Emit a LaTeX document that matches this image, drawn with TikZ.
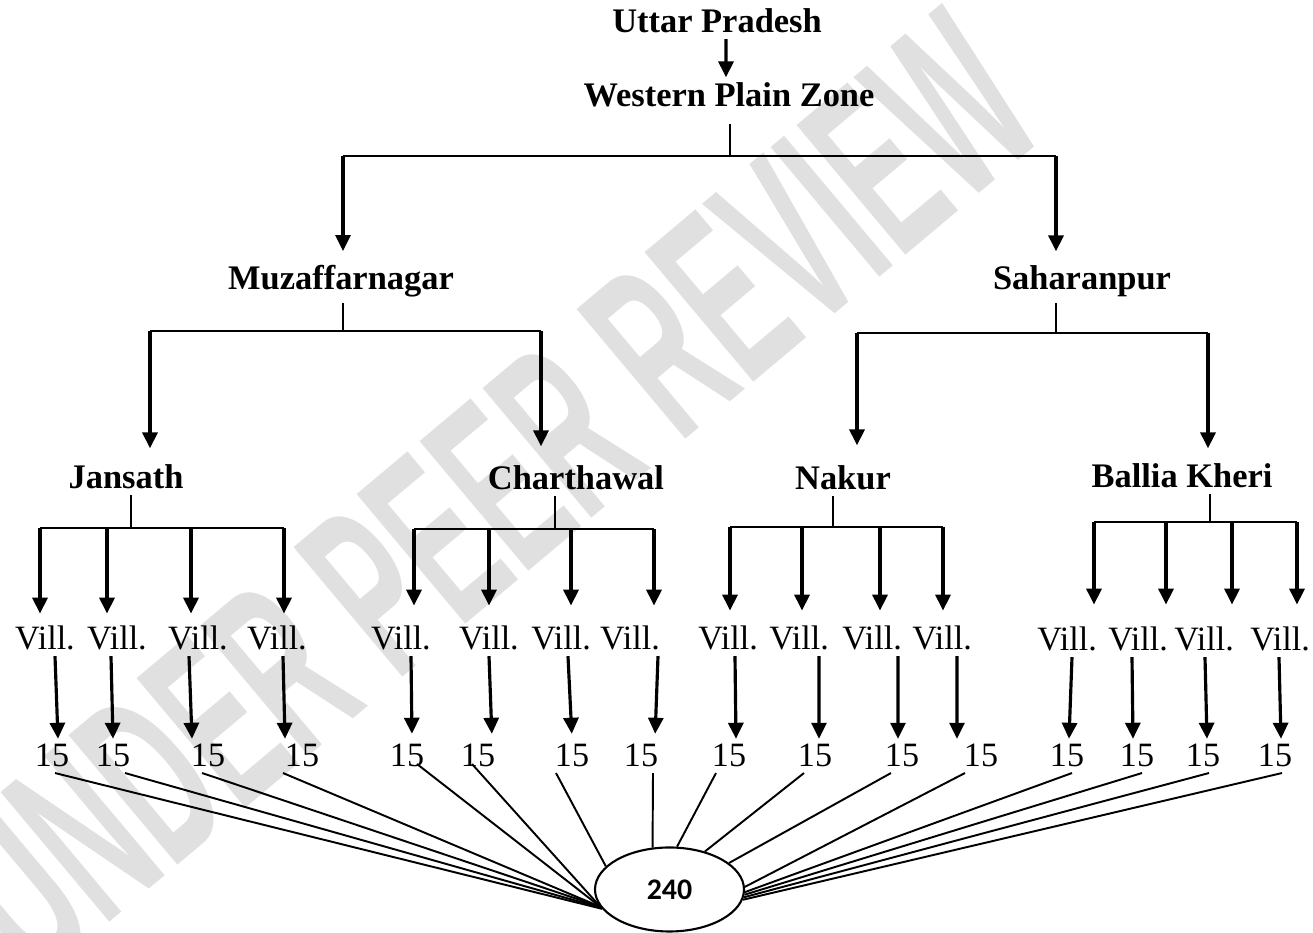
\documentclass[tikz,border=0pt]{standalone}
\usepackage{fontspec}
\setmainfont{Liberation Serif}
\setsansfont{Liberation Sans}
\newfontfamily\calfont{Carlito}
\usetikzlibrary{arrows.meta,shapes.geometric}

\begin{document}
\begin{tikzpicture}[>={Triangle[width=1.5mm,length=1.6mm]},
  head/.style={anchor=base, inner sep=0.5mm, font=\fontsize{9.8}{12}\selectfont\bfseries},
  vill/.style={anchor=base, inner sep=0.5mm, font=\fontsize{9.7}{12}\selectfont},
  arr/.style={->, line width=0.9pt},
  bar/.style={line width=0.7pt},
  wire/.style={line width=0.55pt}]
  \useasboundingbox (0,0) rectangle (13.13,9.33);
  \node [rotate=40, xscale=0.5, text=black!12, font=\fontsize{70}{72}\selectfont\sffamily\bfseries] (wm) at (4.90,4.38) {UNDER PEER REVIEW};

  \node [head] (up)  at ( 7.17, 9.00) {Uttar Pradesh};
  \node [head] (wpz) at ( 7.29, 8.26) {Western Plain Zone};
  \node [head] (mz)  at ( 3.41, 6.43) {Muzaffarnagar};
  \node [head] (sp)  at (10.82, 6.43) {Saharanpur};
  \node [head] (js)  at ( 1.26, 4.44) {Jansath};
  \node [head] (ch)  at ( 5.76, 4.43) {Charthawal};
  \node [head] (nk)  at ( 8.43, 4.43) {Nakur};
  \node [head] (bk)  at (11.82, 4.45) {Ballia Kheri};

  \node [vill] (jv1) at ( 0.45, 2.83) {Vill.};
  \node [vill] (jv2) at ( 1.17, 2.83) {Vill.};
  \node [vill] (jv3) at ( 1.98, 2.83) {Vill.};
  \node [vill] (jv4) at ( 2.77, 2.83) {Vill.};
  \node [vill] (cv1) at ( 4.01, 2.83) {Vill.};
  \node [vill] (cv2) at ( 4.89, 2.83) {Vill.};
  \node [vill] (cv3) at ( 5.61, 2.83) {Vill.};
  \node [vill] (cv4) at ( 6.30, 2.83) {Vill.};
  \node [vill] (nv1) at ( 7.28, 2.83) {Vill.};
  \node [vill] (nv2) at ( 7.99, 2.83) {Vill.};
  \node [vill] (nv3) at ( 8.72, 2.83) {Vill.};
  \node [vill] (nv4) at ( 9.42, 2.83) {Vill.};
  \node [vill] (bv1) at (10.67, 2.82) {Vill.};
  \node [vill] (bv2) at (11.38, 2.82) {Vill.};
  \node [vill] (bv3) at (12.04, 2.82) {Vill.};
  \node [vill] (bv4) at (12.80, 2.82) {Vill.};

  \node [vill] (jf1) at ( 0.52, 1.66) {15};
  \node [vill] (jf2) at ( 1.13, 1.66) {15};
  \node [vill] (jf3) at ( 2.08, 1.66) {15};
  \node [vill] (jf4) at ( 3.02, 1.66) {15};
  \node [vill] (cf1) at ( 4.07, 1.66) {15};
  \node [vill] (cf2) at ( 4.78, 1.66) {15};
  \node [vill] (cf3) at ( 5.72, 1.66) {15};
  \node [vill] (cf4) at ( 6.41, 1.66) {15};
  \node [vill] (nf1) at ( 7.29, 1.66) {15};
  \node [vill] (nf2) at ( 8.15, 1.66) {15};
  \node [vill] (nf3) at ( 9.02, 1.66) {15};
  \node [vill] (nf4) at ( 9.81, 1.66) {15};
  \node [vill] (bf1) at (10.67, 1.66) {15};
  \node [vill] (bf2) at (11.37, 1.66) {15};
  \node [vill] (bf3) at (12.03, 1.66) {15};
  \node [vill] (bf4) at (12.75, 1.66) {15};

  \node [draw, ellipse, line width=0.6pt, inner sep=0, minimum width=1.49cm, minimum height=0.84cm,
         font=\calfont\bfseries\fontsize{8.5}{10}\selectfont] (tot) at (6.695, 0.435) {240};

  % zone
  \draw [arr] ([xshift=0.9mm]up.south) -- ([xshift=-0.3mm]wpz.north);
  \coordinate (wt) at ( 7.30, 7.77);
  \coordinate (wl) at ( 3.43, 7.77);
  \coordinate (wr) at (10.56, 7.77);
  \draw [wire, shorten <=1.1mm] (wpz.south -| wt) -- (wt);
  \draw [bar] (wl) -- (wr);
  \draw [arr, shorten >=0.9mm] (wl) -- (wl |- mz.north);
  \draw [arr, shorten >=0.9mm] (wr) -- (wr |- sp.north);

  % districts
  \coordinate (mt) at ( 3.43, 6.02);
  \coordinate (ml) at ( 1.50, 6.02);
  \coordinate (mr) at ( 5.41, 6.02);
  \draw [wire] (mz.south -| mt) -- (mt);
  \draw [bar] (ml) -- (mr);
  \draw [arr, shorten >=1.1mm] (ml) -- (ml |- js.north);
  \draw [arr, shorten >=1.4mm] (mr) -- (mr |- ch.north);
  \coordinate (st) at (10.56, 6.00);
  \coordinate (sl) at ( 8.57, 6.00);
  \coordinate (sr) at (12.08, 6.00);
  \draw [wire] (sp.south -| st) -- (st);
  \draw [bar] (sl) -- (sr);
  \draw [arr, shorten >=1.5mm] (sl) -- (sl |- nk.north);
  \draw [arr, shorten >=1.0mm] (sr) -- (sr |- bk.north);

  % blocks
  \coordinate (jt) at ( 1.31, 4.05);
  \coordinate (j1) at ( 0.40, 4.05);
  \coordinate (j2) at ( 1.07, 4.05);
  \coordinate (j3) at ( 1.91, 4.05);
  \coordinate (j4) at ( 2.84, 4.05);
  \draw [wire] (js.south -| jt) -- (jt);
  \draw [bar] (j1) -- (j4);
  \draw [arr, shorten >=0.7mm] (j1) -- (j1 |- jv1.north);
  \draw [arr, shorten >=0.7mm] (j2) -- (j2 |- jv2.north);
  \draw [arr, shorten >=0.7mm] (j3) -- (j3 |- jv3.north);
  \draw [arr, shorten >=0.7mm] (j4) -- (j4 |- jv4.north);
  \coordinate (ct) at ( 5.55, 4.04);
  \coordinate (c1) at ( 4.14, 4.04);
  \coordinate (c2) at ( 4.89, 4.04);
  \coordinate (c3) at ( 5.71, 4.04);
  \coordinate (c4) at ( 6.54, 4.04);
  \draw [wire] (ch.south -| ct) -- (ct);
  \draw [bar] (c1) -- (c4);
  \draw [arr, shorten >=1.5mm] (c1) -- (c1 |- cv1.north);
  \draw [arr, shorten >=1.5mm] (c2) -- (c2 |- cv2.north);
  \draw [arr, shorten >=1.5mm] (c3) -- (c3 |- cv3.north);
  \draw [arr, shorten >=1.5mm] (c4) -- (c4 |- cv4.north);
  \coordinate (nt) at ( 8.33, 4.06);
  \coordinate (n1) at ( 7.30, 4.06);
  \coordinate (n2) at ( 8.02, 4.06);
  \coordinate (n3) at ( 8.80, 4.06);
  \coordinate (n4) at ( 9.43, 4.06);
  \draw [wire] (nk.south -| nt) -- (nt);
  \draw [bar] (n1) -- (n4);
  \draw [arr, shorten >=1.0mm] (n1) -- (n1 |- nv1.north);
  \draw [arr, shorten >=1.0mm] (n2) -- (n2 |- nv2.north);
  \draw [arr, shorten >=1.0mm] (n3) -- (n3 |- nv3.north);
  \draw [arr, shorten >=1.0mm] (n4) -- (n4 |- nv4.north);
  \coordinate (bt) at (12.10, 4.11);
  \coordinate (b1) at (10.94, 4.11);
  \coordinate (b2) at (11.66, 4.11);
  \coordinate (b3) at (12.32, 4.11);
  \coordinate (b4) at (12.97, 4.11);
  \draw [wire] (bk.south -| bt) -- (bt);
  \draw [bar] (b1) -- (b4);
  \draw [arr, shorten >=1.7mm] (b1) -- (b1 |- bv1.north);
  \draw [arr, shorten >=1.7mm] (b2) -- (b2 |- bv2.north);
  \draw [arr, shorten >=1.7mm] (b3) -- (b3 |- bv3.north);
  \draw [arr, shorten >=1.7mm] (b4) -- (b4 |- bv4.north);

  % villages to samples
  \draw [arr] ([xshift= 1.0mm]jv1.south) -- ([xshift= 0.6mm]jf1.north);
  \draw [arr] ([xshift=-0.6mm]jv2.south) -- ([xshift= 0.0mm]jf2.north);
  \draw [arr] ([xshift=-0.9mm]jv3.south) -- ([xshift=-1.6mm]jf3.north);
  \draw [arr] ([xshift= 0.6mm]jv4.south) -- ([xshift=-1.7mm]jf4.north);
  \draw [arr, shorten >=0.5mm] ([xshift= 1.0mm]cv1.south) -- ([xshift= 0.5mm]cf1.north);
  \draw [arr, shorten >=0.5mm] ([xshift= 0.0mm]cv2.south) -- ([xshift= 1.4mm]cf2.north);
  \draw [arr, shorten >=0.5mm] ([xshift= 0.7mm]cv3.south) -- ([xshift= 0.0mm]cf3.north);
  \draw [arr, shorten >=0.5mm] ([xshift= 2.8mm]cv4.south) -- ([xshift= 1.4mm]cf4.north);
  \draw [arr] ([xshift= 0.7mm]nv1.south) -- ([xshift= 0.7mm]nf1.north);
  \draw [arr] ([xshift= 2.0mm]nv2.south) -- ([xshift= 0.4mm]nf2.north);
  \draw [arr] ([xshift= 2.6mm]nv3.south) -- ([xshift=-0.4mm]nf3.north);
  \draw [arr] ([xshift= 1.5mm]nv4.south) -- ([xshift=-2.4mm]nf4.north);
  \draw [arr] ([xshift= 0.5mm]bv1.south) -- ([xshift= 0.2mm]bf1.north);
  \draw [arr] ([xshift=-0.6mm]bv2.south) -- ([xshift=-0.4mm]bf2.north);
  \draw [arr] ([xshift= 0.1mm]bv3.south) -- ([xshift= 0.4mm]bf3.north);
  \draw [arr] ([xshift=-0.1mm]bv4.south) -- ([xshift= 0.6mm]bf4.north);

  % samples to total
  \draw [wire] ([xshift= 0.3mm]jf1.south) -- (tot.196);
  \draw [wire] ([xshift= 1.2mm]jf2.south) -- (tot.195);
  \draw [wire] ([xshift=-0.6mm]jf3.south) -- (tot.194);
  \draw [wire] ([xshift=-1.9mm]jf4.south) -- (tot.194);
  \draw [wire] ([xshift= 1.0mm,yshift=0.9mm]cf1.south) -- (tot.194);
  \draw [wire] ([xshift=-0.6mm,yshift=0.9mm]cf2.south) -- (tot.194);
  \draw [wire] ([xshift=-1.6mm]cf3.south) -- (tot.160);
  \draw [wire] ([xshift= 1.2mm]cf4.south) -- (tot.112);
  \draw [wire] ([xshift=-1.3mm]nf1.south) -- (tot.80);
  \draw [wire] ([xshift=-1.1mm]nf2.south) -- (tot.47);
  \draw [wire] ([xshift=-1.1mm]nf3.south) -- (tot.24);
  \draw [wire] ([xshift=-1.6mm]nf4.south) -- (tot.2);
  \draw [wire] ([xshift= 0.5mm]bf1.south) -- (tot.358);
  \draw [wire] ([xshift= 0.5mm]bf2.south) -- (tot.356);
  \draw [wire] ([xshift= 0.6mm]bf3.south) -- (tot.354);
  \draw [wire] ([xshift= 0.7mm]bf4.south) -- (tot.352);
\end{tikzpicture}
\end{document}
